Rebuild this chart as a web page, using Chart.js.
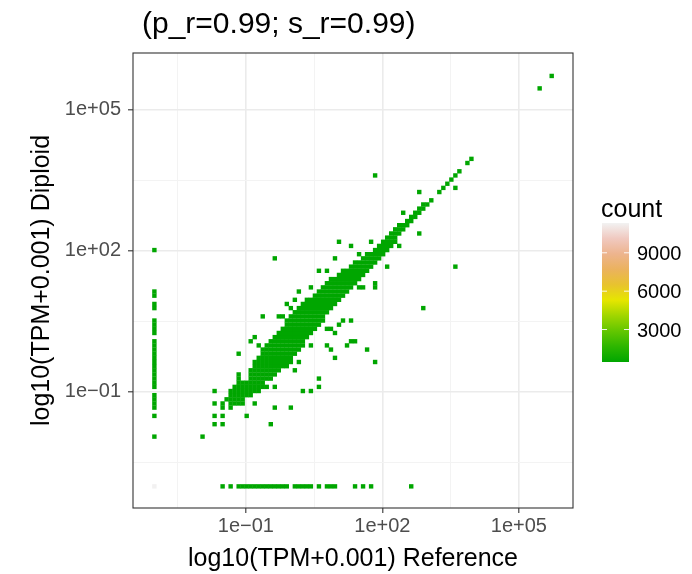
<!DOCTYPE html>
<html>
<head>
<meta charset="utf-8">
<script src="https://cdn.jsdelivr.net/npm/chart.js@4.4.1/dist/chart.umd.min.js"></script>
<style>
  html, body { margin: 0; padding: 0; background: #fff; }
  #wrap { width: 692px; height: 574px; }
</style>
</head>
<body>
<div id="wrap"><canvas id="c" width="692" height="574"></canvas></div>
<script>
// text
const plotTitle = '(p_r=0.99; s_r=0.99)';
const xTitle = 'log10(TPM+0.001) Reference';
const yTitle = 'log10(TPM+0.001) Diploid';
const legendTitle = 'count';

// axes, in log10 units
const xRange = [-3.48, 6.19];
const yRange = [-3.47, 6.21];
const gridBreaks = [-2.5, -1, 0.5, 2, 3.5, 5];
const majorBreaks = [-1, 2, 5];
const majorLabels = ['1e\u221201', '1e+02', '1e+05'];

// 2d bins: 100 x 100, bin 0 is centred on log10(0.001)
const binOrigin = -3.01;
const binWidth = 0.0882;

// bins where reference is 0 (x bin 0): y bin indices
const diploidOnlyBins = [12, 17, 19, 20, 21, 22, 24, 25, 26, 27, 28, 29, 30, 31, 32, 33, 34, 35,
  37, 38, 39, 40, 43, 44, 46, 47, 57];
// bins where diploid is 0 (y bin 0): x bin indices
const referenceOnlyBins = [17, 19, 21, 22, 23, 24, 25, 26, 27, 28, 29, 30, 31, 32, 33, 35, 36, 37, 38, 39,
  41, 43, 44, 45, 50, 52, 54, 64];
const bothZeroCount = 11300;

// filled bins off the axes: [y bin, first x bin, last x bin]
const binRuns = [
  [12, 12, 12],
  [15, 15, 15], [15, 17, 17], [15, 29, 29],
  [17, 15, 15], [17, 17, 17], [17, 23, 23],
  [19, 17, 17], [19, 19, 19], [19, 30, 30], [19, 34, 34],
  [20, 15, 15], [20, 17, 17], [20, 19, 22], [20, 25, 25],
  [21, 18, 22],
  [22, 19, 24],
  [23, 15, 15], [23, 19, 26], [23, 37, 37], [23, 39, 39],
  [24, 20, 28], [24, 30, 30], [24, 41, 41],
  [25, 21, 27],
  [26, 21, 21], [26, 24, 29], [26, 41, 41],
  [27, 21, 21], [27, 24, 30],
  [28, 24, 31], [28, 35, 35],
  [29, 25, 33],
  [30, 25, 34], [30, 36, 36], [30, 55, 55],
  [31, 26, 34], [31, 45, 45],
  [32, 21, 21], [32, 27, 35],
  [33, 27, 36], [33, 44, 44], [33, 53, 53],
  [34, 26, 26], [34, 28, 37], [34, 39, 39], [34, 43, 43], [34, 48, 48],
  [35, 24, 24], [35, 29, 37], [35, 49, 50],
  [36, 25, 25], [36, 30, 38],
  [37, 31, 39], [37, 45, 45],
  [38, 32, 40], [38, 43, 44],
  [39, 33, 41], [39, 46, 46],
  [40, 33, 42], [40, 47, 47], [40, 49, 49],
  [41, 27, 27], [41, 31, 32], [41, 34, 42],
  [42, 35, 43],
  [43, 34, 34], [43, 36, 44], [43, 67, 67],
  [44, 33, 33], [44, 37, 45],
  [45, 35, 35], [45, 38, 46],
  [46, 40, 47],
  [47, 36, 36], [47, 41, 48],
  [48, 39, 39], [48, 42, 49], [48, 51, 52], [48, 55, 55],
  [49, 43, 50], [49, 55, 55],
  [50, 44, 51],
  [51, 46, 52],
  [52, 41, 41], [52, 43, 43], [52, 47, 53],
  [53, 49, 54], [53, 58, 58], [53, 75, 75],
  [54, 50, 55],
  [55, 30, 30], [55, 45, 45], [55, 52, 56],
  [56, 51, 51], [56, 53, 57],
  [57, 55, 58],
  [58, 49, 49], [58, 56, 59], [58, 61, 61],
  [59, 46, 46], [59, 54, 54], [59, 57, 60],
  [60, 58, 60],
  [61, 59, 61], [61, 66, 66],
  [62, 60, 62],
  [63, 61, 63],
  [64, 63, 64],
  [65, 64, 65],
  [66, 62, 62], [66, 65, 66],
  [67, 66, 67],
  [68, 67, 68],
  [69, 69, 69],
  [71, 66, 66], [71, 71, 71],
  [72, 72, 72], [72, 75, 75],
  [73, 73, 73],
  [74, 74, 74],
  [75, 55, 55], [75, 75, 75],
  [76, 76, 76],
  [78, 78, 78],
  [79, 79, 79],
  [96, 96, 96],
  [99, 99, 99]
];
const sparseCount = 1;

// colour scale (terrain.colors(10)) and legend
const countLimits = [460, 11330];
const legendBreaks = [3000, 6000, 9000];
const terrain = ['#00A600', '#2DB600', '#63C600', '#A0D600', '#E6E600',
  '#E8C32E', '#EBB25E', '#EDB48E', '#F0C9C0', '#F2F2F2'];

const FONT = '"Liberation Sans", Arial, sans-serif';

const hex2rgb = h => [1, 3, 5].map(i => parseInt(h.slice(i, i + 2), 16));
const countColor = c => {
  let t = (c - countLimits[0]) / (countLimits[1] - countLimits[0]);
  t = Math.max(0, Math.min(1, t)) * (terrain.length - 1);
  const i = Math.min(Math.floor(t), terrain.length - 2), f = t - i;
  const a = hex2rgb(terrain[i]), b = hex2rgb(terrain[i + 1]);
  const m = a.map((v, k) => Math.round(v + (b[k] - v) * f));
  return `rgb(${m[0]},${m[1]},${m[2]})`;
};

const binCenter = b => binOrigin + b * binWidth;

const points = [];
points.push({ x: binCenter(0), y: binCenter(0), count: bothZeroCount });
diploidOnlyBins.forEach(yb => points.push({ x: binCenter(0), y: binCenter(yb), count: sparseCount }));
referenceOnlyBins.forEach(xb => points.push({ x: binCenter(xb), y: binCenter(0), count: sparseCount }));
binRuns.forEach(([yb, x0, x1]) => {
  for (let xb = x0; xb <= x1; xb++) points.push({ x: binCenter(xb), y: binCenter(yb), count: sparseCount });
});

const isMajor = v => majorBreaks.some(m => Math.abs(m - v) < 1e-9);
const tickLabel = v => {
  const i = majorBreaks.findIndex(m => Math.abs(m - v) < 1e-9);
  return i < 0 ? '' : majorLabels[i];
};

const axis = (range, fitFn, pad) => ({
  type: 'linear',
  min: range[0],
  max: range[1],
  afterBuildTicks: s => { s.ticks = gridBreaks.map(v => ({ value: v })); },
  afterFit: fitFn,
  border: { display: false },
  grid: {
    color: c => isMajor(c.tick.value) ? '#EBEBEB' : '#F3F3F3',
    lineWidth: c => isMajor(c.tick.value) ? 1.6 : 1,
    tickLength: 5,
    tickWidth: 1.1,
    tickColor: c => isMajor(c.tick.value) ? '#333333' : 'rgba(0,0,0,0)'
  },
  ticks: {
    autoSkip: false,
    maxRotation: 0,
    padding: pad,
    color: '#4D4D4D',
    font: { family: FONT, size: 20 },
    callback: v => tickLabel(v)
  }
});

const decor = {
  id: 'decor',
  afterDraw(chart) {
    const { ctx, chartArea: a } = chart;
    ctx.save();
    ctx.strokeStyle = '#333333';
    ctx.lineWidth = 1.1;
    ctx.strokeRect(a.left, a.top, a.right - a.left, a.bottom - a.top);

    ctx.fillStyle = '#000';
    ctx.textBaseline = 'alphabetic';
    ctx.font = `30px ${FONT}`;
    ctx.textAlign = 'left';
    ctx.fillText(plotTitle, a.left + 9, 33);

    ctx.font = `25px ${FONT}`;
    ctx.textAlign = 'center';
    ctx.fillText(xTitle, (a.left + a.right) / 2, 566);
    ctx.save();
    ctx.translate(49, (a.top + a.bottom) / 2);
    ctx.rotate(-Math.PI / 2);
    ctx.fillText(yTitle, 0, 0);
    ctx.restore();

    // colour bar
    const bx = 602, bw = 27, top = 223, bottom = 362;
    const g = ctx.createLinearGradient(0, bottom, 0, top);
    terrain.forEach((c, i) => g.addColorStop(i / (terrain.length - 1), c));
    ctx.fillStyle = g;
    ctx.fillRect(bx, top, bw, bottom - top);
    ctx.textAlign = 'left';
    ctx.font = `25px ${FONT}`;
    ctx.fillStyle = '#000';
    ctx.fillText(legendTitle, bx - 1, 217);
    ctx.font = `20px ${FONT}`;
    legendBreaks.forEach(v => {
      const y = bottom - (v - countLimits[0]) / (countLimits[1] - countLimits[0]) * (bottom - top);
      ctx.strokeStyle = 'rgba(255,255,255,0.9)';
      ctx.lineWidth = 1;
      ctx.beginPath();
      ctx.moveTo(bx, y); ctx.lineTo(bx + 5, y);
      ctx.moveTo(bx + bw - 5, y); ctx.lineTo(bx + bw, y);
      ctx.stroke();
      ctx.fillStyle = '#000';
      ctx.fillText(String(v), 637, y + 7);
    });
    ctx.restore();
  }
};

new Chart(document.getElementById('c'), {
  type: 'scatter',
  data: {
    datasets: [{
      data: points,
      pointStyle: 'rect',
      pointRadius: c => {
        const s = c.chart.scales.x;
        return (Math.abs(s.getPixelForValue(binWidth) - s.getPixelForValue(0)) + 0.4) * Math.SQRT1_2;
      },
      pointBorderWidth: 0,
      backgroundColor: c => countColor(c.raw ? c.raw.count : sparseCount),
      borderColor: 'rgba(0,0,0,0)'
    }]
  },
  options: {
    responsive: false,
    devicePixelRatio: 1,
    animation: false,
    events: [],
    layout: { padding: { top: 53, right: 119, left: 0, bottom: 0 } },
    plugins: { legend: { display: false }, tooltip: { enabled: false } },
    scales: {
      x: axis(xRange, s => { s.height = 66; }, 1),
      y: axis(yRange, s => { s.width = 133; }, 7)
    }
  },
  plugins: [decor]
});
</script>
</body>
</html>
